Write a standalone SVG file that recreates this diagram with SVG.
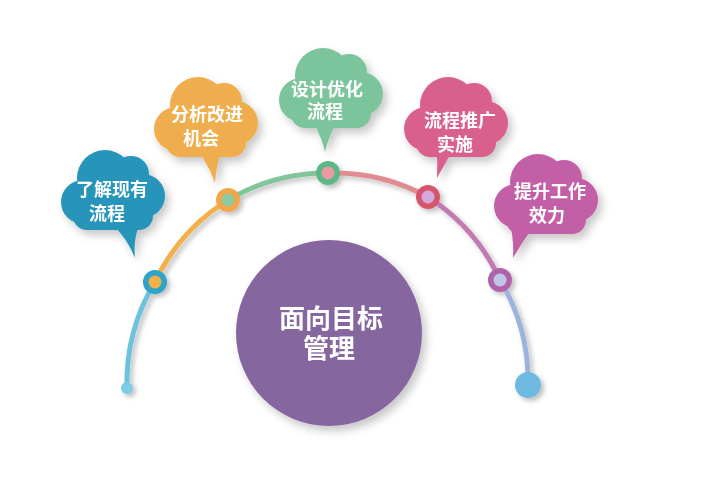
<svg xmlns="http://www.w3.org/2000/svg" xmlns:xlink="http://www.w3.org/1999/xlink" width="705" height="486" viewBox="0 0 705 486">
<defs>
<filter id="sh" x="-30%" y="-30%" width="170%" height="170%">
<feDropShadow dx="4" dy="5" stdDeviation="4" flood-color="#000" flood-opacity="0.22"/>
</filter>
<filter id="sh2" x="-30%" y="-30%" width="170%" height="170%">
<feDropShadow dx="3" dy="3" stdDeviation="2.5" flood-color="#000" flood-opacity="0.25"/>
</filter>
<symbol id="cloud" overflow="visible">
<circle cx="-8" cy="-12" r="28"/>
<circle cx="-30" cy="12" r="22"/>
<circle cx="30" cy="6" r="22"/>
<circle cx="18" cy="-16" r="18"/>
<circle cx="0" cy="10" r="28"/>
<rect x="-40" y="5" width="80" height="35" rx="14"/>
</symbol>
</defs>
<style>
.lbl{font-family:"Liberation Sans","Noto Sans CJK SC",sans-serif;font-weight:bold;fill:#fff;text-anchor:middle}
.s{font-size:18px}
.b{font-size:26px}
.arc{fill:none;stroke-width:5;stroke-linecap:round}
</style>
<rect width="705" height="486" fill="#fff"/>

<g id="connectors" filter="url(#sh2)">
<path class="arc" d="M127,388 A195 195 0 0 1 155,282" stroke="#6cc3dc"/>
<path class="arc" d="M155,282 A195 195 0 0 1 228,200" stroke="#f2b04c"/>
<path class="arc" d="M228,200 A195 195 0 0 1 328,173" stroke="#80c59c"/>
<path class="arc" d="M328,173 A195 195 0 0 1 428,197" stroke="#e08a92"/>
<path class="arc" d="M428,197 A195 195 0 0 1 500,280" stroke="#c27ab3"/>
<path class="arc" d="M500,280 A195 195 0 0 1 528,385" stroke="#9cb3de"/>
<circle cx="127" cy="388" r="6" fill="#7dcbe4"/>
<circle cx="528" cy="385" r="13" fill="#6fb9e0"/>
<circle cx="155" cy="282" r="12" fill="#2da4c6"/>
<circle cx="155" cy="282" r="6.5" fill="#f2b04c"/>
<circle cx="228" cy="200" r="12" fill="#f0a64a"/>
<circle cx="228" cy="200" r="6.5" fill="#8ccaa0"/>
<circle cx="328" cy="173" r="12" fill="#5db886"/>
<circle cx="328" cy="173" r="6.5" fill="#eb9aa2"/>
<circle cx="428" cy="197" r="12" fill="#d5566a"/>
<circle cx="428" cy="197" r="6.5" fill="#d2aade"/>
<circle cx="500" cy="280" r="12" fill="#b064a8"/>
<circle cx="500" cy="280" r="6.5" fill="#c0c6ea"/>
</g>

<g id="center" filter="url(#sh)">
<circle cx="329" cy="333" r="93" fill="#85669f"/>
<text class="lbl b" x="331" y="328">面向目标</text>
<text class="lbl b" x="329" y="358">管理</text>
</g>

<g id="cloud1" filter="url(#sh)" fill="#2595b9">
<use xlink:href="#cloud" x="113" y="190"/>
<path d="M114,226 Q128,240 135,258 Q133,240 139,226 Z"/>
<text class="lbl s" x="112" y="196">了解现有</text>
<text class="lbl s" x="107" y="220">流程</text>
</g>

<g id="cloud2" filter="url(#sh)" fill="#f0ad4e">
<use xlink:href="#cloud" x="206" y="117"/>
<path d="M199,152 Q210,168 215,183 Q216,168 221,152 Z"/>
<text class="lbl s" x="207" y="121">分析改进</text>
<text class="lbl s" x="201" y="145">机会</text>
</g>

<g id="cloud3" filter="url(#sh)" fill="#7cc49b">
<use xlink:href="#cloud" x="331" y="88"/>
<path d="M314,124 Q322,138 325,152 Q328,138 336,124 Z"/>
<text class="lbl s" x="327" y="96">设计优化</text>
<text class="lbl s" x="325" y="118">流程</text>
</g>

<g id="cloud4" filter="url(#sh)" fill="#d9608d">
<use xlink:href="#cloud" x="456" y="117"/>
<path d="M436,145 Q438,162 437,178 Q446,162 454,148 Z"/>
<text class="lbl s" x="460" y="127">流程推广</text>
<text class="lbl s" x="455" y="151">实施</text>
</g>

<g id="cloud5" filter="url(#sh)" fill="#c35ea6">
<use xlink:href="#cloud" x="546" y="194"/>
<path d="M511,228 Q514,244 513,258 Q521,244 531,230 Z"/>
<text class="lbl s" x="550" y="198">提升工作</text>
<text class="lbl s" x="547" y="222">效力</text>
</g>
</svg>
